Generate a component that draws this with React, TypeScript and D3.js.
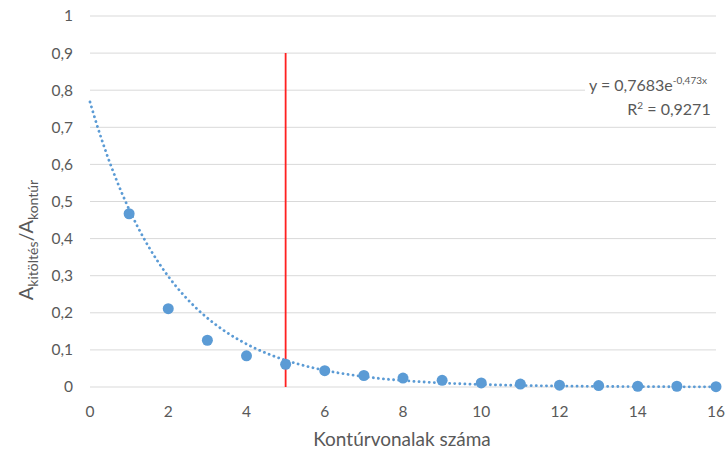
import React from "react";
import * as d3 from "d3";

const xValues = [1, 2, 3, 4, 5, 6, 7, 8, 9, 10, 11, 12, 13, 14, 15, 16];
const yValues = [0.467, 0.211, 0.126, 0.084, 0.061, 0.044, 0.031, 0.024, 0.018, 0.011, 0.008, 0.005, 0.004, 0.002, 0.002, 0.001];
const yTicks = [0, 0.1, 0.2, 0.3, 0.4, 0.5, 0.6, 0.7, 0.8, 0.9, 1];
const xTicks = [0, 2, 4, 6, 8, 10, 12, 14, 16];
const trendA = 0.7683;
const trendB = -0.473;
const markerX = 5;
const markerTop = 0.9;

const W = 726, H = 455;
const M = { left: 90, right: 10, top: 16, bottom: 68 };
const FONT = "Lato, 'Open Sans', sans-serif";
const BLUE = "#5B9BD5";

export default function App() {
  const x = d3.scaleLinear().domain([0, 16]).range([M.left, W - M.right]);
  const y = d3.scaleLinear().domain([0, 1]).range([H - M.bottom, M.top]);
  const trendPts: [number, number][] = [];
  for (let i = 0; i <= 320; i++) {
    const xv = (i / 320) * 16;
    trendPts.push([xv, trendA * Math.exp(trendB * xv)]);
  }
  const line = d3.line<[number, number]>().x(d => x(d[0])).y(d => y(d[1]));
  const fmt = (v: number) => String(v).replace(".", ",");
  return (
    <svg width={W} height={H} style={{ position: "absolute", left: 0, top: 0, background: "#fff" }} fontFamily={FONT}>
      <rect width={W} height={H} fill="#fff" />
      {yTicks.map(t => (
        <g key={t}>
          <line x1={x(0)} x2={x(16)} y1={y(t)} y2={y(t)} stroke="#d9d9d9" strokeWidth={1} />
          <text x={73} y={y(t)} dy="0.35em" textAnchor="end" fontSize={15.5} fill="#595959">{fmt(t)}</text>
        </g>
      ))}
      {xTicks.map(t => (
        <text key={t} x={x(t)} y={417} textAnchor="middle" fontSize={15.5} fill="#595959">{t}</text>
      ))}
      <line x1={x(markerX)} x2={x(markerX)} y1={y(markerTop)} y2={y(0)} stroke="#FF2020" strokeWidth={1.8} />
      <path d={line(trendPts) || ""} fill="none" stroke={BLUE} strokeWidth={2.8} strokeDasharray="0.1 5" strokeLinecap="round" />
      {xValues.map((xv, i) => (
        <circle key={xv} cx={x(xv)} cy={y(yValues[i])} r={5.5} fill={BLUE} />
      ))}
      <rect x={585} y={66} width={131} height={52} fill="#fff" />
      <text x={707} y={91} textAnchor="end" fontSize={16} fill="#595959">
        y = 0,7683e<tspan fontSize={10} dy={-7}>-0,473x</tspan>
      </text>
      <text x={669} y={115} textAnchor="middle" fontSize={16} fill="#595959">
        R<tspan fontSize={10} dy={-6}>2</tspan><tspan dy={6}> = 0,9271</tspan>
      </text>
      <text x={402} y={446} textAnchor="middle" fontSize={19} fill="#595959">Kontúrvonalak száma</text>
      <text transform={`translate(33,240) rotate(-90)`} textAnchor="middle" fontSize={20} fill="#595959">
        A<tspan fontSize={14} dy={5}>kitöltés</tspan><tspan dy={-5}>/A</tspan><tspan fontSize={14} dy={5}>kontúr</tspan>
      </text>
    </svg>
  );
}
